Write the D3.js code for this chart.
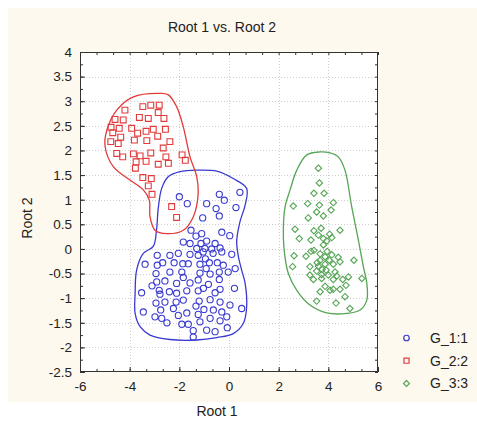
<!DOCTYPE html>
<html><head><meta charset="utf-8">
<script src="https://cdn.jsdelivr.net/npm/d3@7"></script>
<style>
body{margin:0;background:#fff}
svg{display:block;font-family:"Liberation Sans",Arial,sans-serif}
</style>
</head><body><svg id="c" width="477" height="424"></svg>
<script>
// ---- data ----
const title = "Root 1 vs. Root 2";
const xLabel = "Root 1";
const yLabel = "Root 2";
const xTicks = [-6,-4,-2,0,2,4,6];
const yTicks = [-2.5,-2,-1.5,-1,-0.5,0,0.5,1,1.5,2,2.5,3,3.5,4];
const groups = ["G_1:1","G_2:2","G_3:3"];

// G_1:1 (blue circles)
const g1x = [-2.00,-1.68,-1.06,-0.90,-0.52,-0.39,-0.19,-0.39,0.28,0.44,-1.53,-1.33,-1.10,-1.84,-1.57,-1.13,-0.90,-0.56,-0.29,0.03,-1.30,-0.97,-0.70,-0.36,
 -3.38,-2.89,-2.89,-2.67,-2.38,-2.04,-1.57,-1.24,-1.04,-0.64,-0.29,0.11,-2.21,-1.86,-1.64,-1.17,-0.79,-0.47,-0.23,
 -2.94,-2.38,-1.90,-1.17,-0.76,-0.39,-0.03,-2.58,-2.91,-1.84,-1.57,-1.24,-0.83,-0.39,-2.11,
 -3.52,-2.81,-2.78,-2.40,-2.11,-1.70,-1.24,-1.03,-0.56,-0.36,-2.94,-2.58,-2.13,-1.84,-1.20,-0.76,-0.36,0.04,0.51,
 -3.45,-2.75,-2.24,-1.70,-1.33,-1.01,-0.63,-0.29,-2.98,-2.71,-2.04,-1.24,-0.76,-0.36,-0.09,
 -1.90,-1.64,-1.17,-1.44,-0.90,-0.56,-0.07,-1.44,0.25,0.22,-0.95,-0.92,-3.10,-2.50];
const g1y = [1.06,0.92,0.63,0.92,0.82,1.11,0.99,0.67,0.84,1.15,0.38,0.26,0.31,0.14,0.11,0.11,0.16,0.11,0.34,0.27,0.01,0.01,0.00,0.02,
 -0.31,-0.13,-0.33,-0.28,-0.13,-0.09,-0.11,-0.13,-0.06,-0.09,-0.06,-0.11,-0.28,-0.30,-0.30,-0.31,-0.28,-0.28,-0.33,
 -0.50,-0.47,-0.47,-0.49,-0.51,-0.47,-0.47,-0.65,-0.67,-0.58,-0.69,-0.63,-0.72,-0.62,-0.70,
 -0.89,-0.84,-0.92,-0.87,-0.90,-0.85,-0.85,-0.80,-0.89,-0.82,-1.10,-1.08,-1.08,-1.04,-1.06,-1.03,-1.08,-1.14,-1.21,
 -1.28,-1.24,-1.21,-1.30,-1.16,-1.23,-1.24,-1.28,-1.38,-1.41,-1.35,-1.33,-1.41,-1.46,-1.38,
 -1.53,-1.53,-1.48,-1.66,-1.65,-1.68,-1.60,-1.79,-0.40,-0.80,-0.20,-0.40,-0.75,-1.50];

// G_2:2 (red squares)
const g2x = [-3.47,-3.15,-2.81,-4.19,-4.59,-4.26,-3.61,-3.25,-2.85,-2.62,-4.42,-4.68,-3.92,-3.68,-3.34,-3.05,-2.87,-2.56,
 -4.36,-4.76,-4.46,-3.81,-3.31,-2.38,-2.65,-4.52,-4.28,-3.85,-3.58,-3.15,-2.54,-1.89,-1.76,-3.74,-3.34,-2.85,-2.44,-3.77,
 -3.47,-3.13,-3.25,-3.10,-2.31,-2.11,-4.75];
const g2y = [2.89,2.92,2.92,2.82,2.63,2.62,2.67,2.65,2.77,2.65,2.45,2.36,2.45,2.35,2.39,2.43,2.29,2.43,
 2.27,2.18,2.14,2.21,2.20,2.18,2.05,1.94,1.87,1.93,1.89,1.95,1.87,1.91,1.80,1.77,1.78,1.72,1.74,1.64,
 1.45,1.43,1.28,1.11,0.86,0.64,2.47];

// G_3:3 (green diamonds)
const g3x = [3.60,3.64,3.42,3.83,2.59,3.17,3.64,4.20,3.53,4.11,3.19,3.80,2.66,3.42,3.71,4.47,2.83,3.30,3.60,3.80,4.14,3.94,3.80,
 3.42,3.67,2.62,3.10,3.87,4.14,3.67,4.04,4.40,2.56,3.26,3.60,3.87,4.20,4.47,5.03,3.53,3.91,4.27,3.26,3.73,4.00,4.34,
 3.40,3.73,4.20,4.58,4.81,5.35,3.87,4.20,4.47,4.71,3.67,4.07,4.67,3.53,4.31,4.87,3.55,3.95,3.30,4.05,3.75];
const g3y = [1.64,1.34,1.13,1.13,0.87,0.92,0.89,0.94,0.75,0.79,0.63,0.67,0.40,0.37,0.42,0.38,0.21,0.18,0.28,0.21,0.23,0.16,0.08,
 -0.03,-0.10,-0.14,-0.15,-0.16,-0.12,-0.23,-0.23,-0.17,-0.36,-0.36,-0.35,-0.31,-0.31,-0.26,-0.23,-0.45,-0.43,-0.47,-0.53,-0.52,-0.53,-0.55,
 -0.62,-0.60,-0.62,-0.62,-0.57,-0.60,-0.76,-0.82,-0.82,-0.74,-0.87,-0.84,-0.97,-1.06,-1.10,-1.21,-0.28,-0.05,-0.05,0.30,-0.42];

// contour outlines
const c1x = [-2.85,-2.71,-2.44,-1.97,-1.30,-0.49,0.17,0.71,0.65,0.44,0.31,0.38,0.51,0.65,0.71,0.58,0.17,-0.49,-1.30,-2.38,-3.18,-3.58,-3.78,-3.78,-3.72,-3.45,-3.05,-2.92];
const c1y = [0.82,1.23,1.47,1.57,1.60,1.58,1.43,1.23,0.89,0.55,0.15,-0.16,-0.43,-0.70,-1.18,-1.51,-1.72,-1.80,-1.85,-1.84,-1.75,-1.58,-1.31,-0.90,-0.43,-0.09,0.05,0.38];
const c2x = [-2.78,-3.85,-4.52,-4.92,-4.99,-4.66,-3.99,-3.45,-3.21,-3.18,-2.98,-2.51,-1.84,-1.44,-1.24,-1.30,-1.57,-1.84,-2.11,-2.44];
const c2y = [3.16,3.09,2.82,2.41,2.08,1.67,1.40,1.20,0.99,0.65,0.38,0.31,0.38,0.65,1.13,1.47,1.87,2.48,2.89,3.13];
const c3x = [3.67,3.13,2.73,2.46,2.26,2.19,2.22,2.39,2.73,3.26,3.94,4.74,5.28,5.55,5.55,5.41,5.21,4.94,4.67,4.40,4.07];
const c3y = [1.97,1.91,1.60,1.20,0.86,0.45,-0.02,-0.50,-0.84,-1.14,-1.30,-1.31,-1.24,-1.04,-0.70,-0.36,0.18,0.86,1.60,1.87,1.95];

// ---- drawing ----
const colors = ["#3a3ad0","#e23a3a","#55a555"];
const svg = d3.select("#c");
const L=80,R=378,T=52,B=372;
const x = d3.scaleLinear([-6,6],[L,R]);
const y = d3.scaleLinear([-2.5,4],[B,T]);

svg.append("rect").attr("x",8).attr("y",8).attr("width",469).attr("height",394).attr("fill","#fdf9ef");
svg.append("rect").attr("x",L).attr("y",T).attr("width",R-L).attr("height",B-T).attr("fill","#fff");

// grid
const grid = svg.append("g").attr("stroke","#cfcfcf").attr("stroke-dasharray","1,2").attr("stroke-width",1);
xTicks.slice(1,-1).forEach(v=>grid.append("line").attr("x1",Math.round(x(v))+0.5).attr("x2",Math.round(x(v))+0.5).attr("y1",T).attr("y2",B));
yTicks.slice(1,-1).forEach(v=>grid.append("line").attr("y1",Math.round(y(v))+0.5).attr("y2",Math.round(y(v))+0.5).attr("x1",L).attr("x2",R));

// minor ticks
const xMinor = d3.range(-6,6.001,2/3).map(v=>+v.toFixed(4));
const yMinor = d3.range(-2.5,4.001,0.25).map(v=>+v.toFixed(4));
const fs = "13.5px";
function styleAxis(g){ g.selectAll(".domain").remove(); g.selectAll("line").attr("stroke","#333"); g.selectAll("text").attr("fill","#222").style("font-size",fs).attr("font-family","Liberation Sans, Arial, sans-serif"); }

svg.append("g").attr("transform",`translate(0,${B})`).call(d3.axisBottom(x).tickValues(xMinor).tickSizeInner(-3).tickSizeOuter(0).tickFormat("")).call(styleAxis);
svg.append("g").attr("transform",`translate(0,${T})`).call(d3.axisTop(x).tickValues(xMinor).tickSizeInner(-3).tickSizeOuter(0).tickFormat("")).call(styleAxis);
svg.append("g").attr("transform",`translate(${L},0)`).call(d3.axisLeft(y).tickValues(yMinor).tickSizeInner(-3).tickSizeOuter(0).tickFormat("")).call(styleAxis);
svg.append("g").attr("transform",`translate(${R},0)`).call(d3.axisRight(y).tickValues(yMinor).tickSizeInner(-3).tickSizeOuter(0).tickFormat("")).call(styleAxis);

// major axes with labels (ASCII hyphen minus like the reference)
svg.append("g").attr("transform",`translate(0,${B})`).call(d3.axisBottom(x).tickValues(xTicks).tickSizeInner(-5).tickSizeOuter(0).tickPadding(9).tickFormat(d=>String(d))).call(styleAxis);
svg.append("g").attr("transform",`translate(${L},0)`).call(d3.axisLeft(y).tickValues(yTicks).tickSizeInner(-5).tickSizeOuter(0).tickPadding(8).tickFormat(d=>String(d))).call(styleAxis);

svg.append("rect").attr("x",L+0.5).attr("y",T+0.5).attr("width",R-L-1).attr("height",B-T-1).attr("fill","none").attr("stroke","#333").attr("stroke-width",1);

// contours
const line = d3.line().x(d=>x(d[0])).y(d=>y(d[1])).curve(d3.curveCatmullRomClosed.alpha(0.5));
[[c1x,c1y],[c2x,c2y],[c3x,c3y]].forEach(([cx,cy],i)=>{
  svg.append("path").attr("d",line(d3.zip(cx,cy))).attr("fill","none").attr("stroke",colors[i]).attr("stroke-width",1.3);
});

// markers
const sym = [d3.symbolCircle, d3.symbolSquare, d3.symbolDiamond2];
const sizes = [30, 34, 26];
const sets = [[g1x,g1y],[g2x,g2y],[g3x,g3y]];
sets.forEach(([gx,gy],i)=>{
  const s = d3.symbol().type(sym[i]).size(sizes[i]);
  svg.append("g").selectAll("path").data(d3.zip(gx,gy)).join("path")
    .attr("d",s).attr("transform",d=>`translate(${x(d[0])},${y(d[1])})`)
    .attr("fill","none").attr("stroke",colors[i]).attr("stroke-width",1.1);
});

// title & labels
svg.append("text").attr("x",222).attr("y",32).attr("text-anchor","middle").style("font-size","14px").attr("fill","#222").text(title);
svg.append("text").attr("x",217).attr("y",416).attr("text-anchor","middle").style("font-size","14px").attr("fill","#222").text(xLabel);
svg.append("text").attr("transform","translate(32,218) rotate(-90)").attr("text-anchor","middle").style("font-size","14px").attr("fill","#222").text(yLabel);

// legend
const lg = svg.append("g");
const legSizes = [24, 26, 22];
groups.forEach((g,i)=>{
  const yy = 338 + i*22.7;
  lg.append("path").attr("d",d3.symbol().type(sym[i]).size(legSizes[i])()).attr("transform",`translate(406.5,${yy})`).attr("fill","none").attr("stroke",colors[i]).attr("stroke-width",1.2);
  lg.append("text").attr("x",430).attr("y",yy+5).style("font-size","14px").attr("fill","#222").text(g);
});
</script></body></html>
